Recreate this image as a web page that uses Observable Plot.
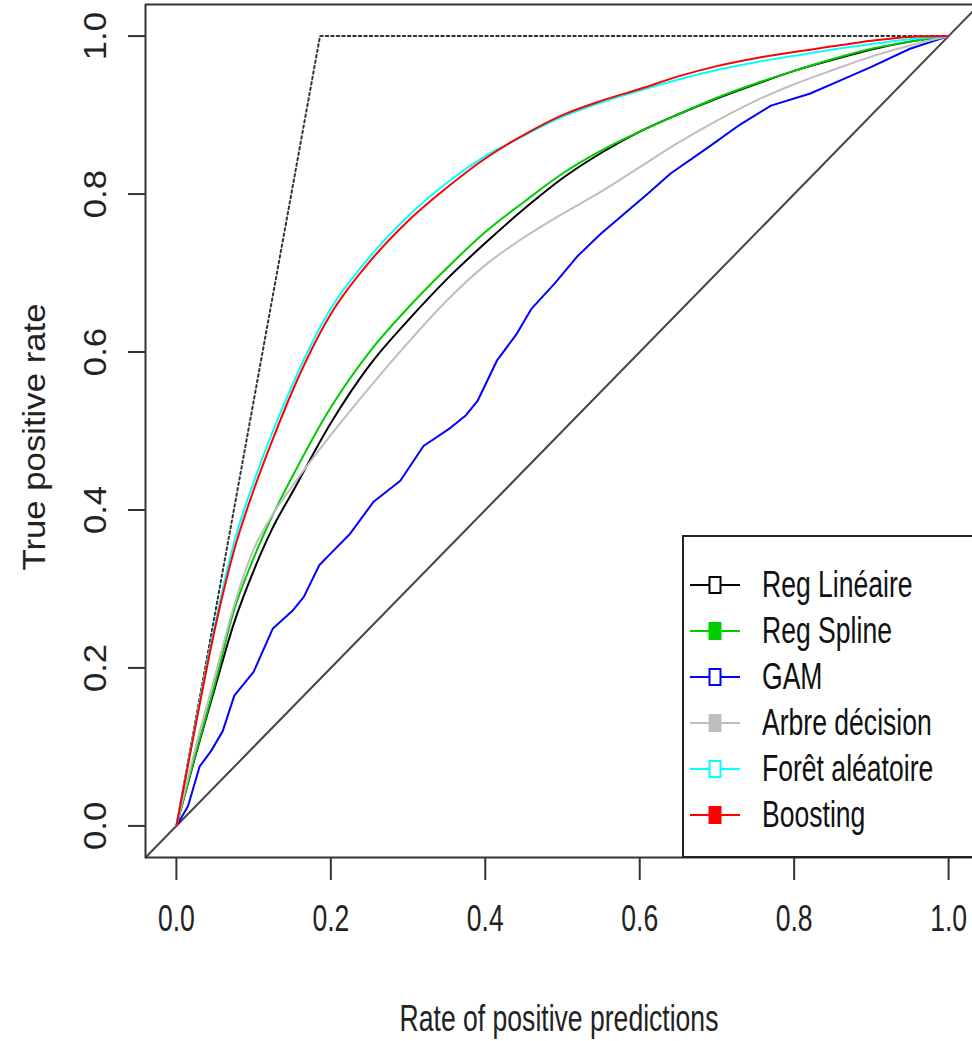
<!DOCTYPE html>
<html>
<head>
<meta charset="utf-8">
<script src="https://cdn.jsdelivr.net/npm/d3@7"></script>
<script src="https://cdn.jsdelivr.net/npm/@observablehq/plot@0.6"></script>
<style>
  html, body { margin: 0; padding: 0; background: white; overflow: hidden; }
  #wrap { position: relative; width: 972px; height: 1041px; overflow: hidden; }
  #legend { position: absolute; left: 682px; top: 535px; width: 310px; height: 323px;
            border: 2px solid #222; box-sizing: border-box; background: white; }
  .lrow { position: absolute; left: 0; height: 0; }
  .lsym { position: absolute; left: 6px; top: -10px; }
  .ltxt { position: absolute; left: 78px; top: -16px; height: 32px; line-height: 32px; white-space: nowrap;
          font-family: 'Liberation Sans', Arial, sans-serif; font-size: 32px; color: #111;
          transform-origin: left center; transform: scale(0.83, 1.13); }
</style>
</head>
<body>
<div id="wrap"><div id="chart"></div><div id="legend"></div></div>
<script>
// ---------- data ----------
const xTicks = [0, 0.2, 0.4, 0.6, 0.8, 1.0];
const yTicks = [0, 0.2, 0.4, 0.6, 0.8, 1.0];
const xDomain = [-0.04, 1.04];
const yDomain = [-0.04, 1.04];
const xLabel = "Rate of positive predictions";
const yLabel = "True positive rate";

// perfect model (prevalence ~0.186) and random model
const perfectX = [0, 0.186, 1];
const perfectY = [0, 1, 1];
const diagonal = [-0.04, 1.04];

const seriesNames  = ["Reg Linéaire", "Reg Spline", "GAM", "Arbre décision", "Forêt aléatoire", "Boosting"];
const seriesColors = ["#000000", "#00CD00", "#0000FF", "#BEBEBE", "#00FFFF", "#FF0000"];
const seriesFilled = [false, true, false, true, false, true];

const rateGrid       = [0, 0.025, 0.05, 0.075, 0.1, 0.125, 0.15, 0.2, 0.25, 0.3, 0.35, 0.4, 0.45, 0.5, 0.55, 0.6, 0.65, 0.7, 0.75, 0.8, 0.85, 0.9, 0.95, 1];
const regLineaire    = [0, 0.09, 0.175, 0.258, 0.323, 0.378, 0.422, 0.51, 0.583, 0.64, 0.692, 0.738, 0.781, 0.82, 0.852, 0.879, 0.901, 0.921, 0.939, 0.956, 0.97, 0.983, 0.993, 1];
const regSpline      = [0, 0.092, 0.18, 0.274, 0.339, 0.394, 0.442, 0.53, 0.6, 0.656, 0.706, 0.752, 0.79, 0.826, 0.855, 0.879, 0.901, 0.922, 0.94, 0.956, 0.971, 0.984, 0.993, 1];
const arbreDecision  = [0, 0.1, 0.19, 0.28, 0.35, 0.395, 0.43, 0.495, 0.555, 0.612, 0.665, 0.71, 0.745, 0.775, 0.803, 0.834, 0.865, 0.893, 0.918, 0.939, 0.957, 0.974, 0.988, 1];
const foretAleatoire = [0, 0.13, 0.255, 0.36, 0.435, 0.5, 0.558, 0.655, 0.72, 0.772, 0.814, 0.848, 0.874, 0.898, 0.916, 0.931, 0.945, 0.957, 0.967, 0.975, 0.983, 0.99, 0.996, 1];
const boosting       = [0, 0.128, 0.25, 0.35, 0.425, 0.49, 0.55, 0.648, 0.714, 0.766, 0.808, 0.845, 0.875, 0.9, 0.918, 0.933, 0.949, 0.962, 0.972, 0.98, 0.987, 0.994, 0.999, 1];

const gamX = [0, 0.015, 0.03, 0.045, 0.06, 0.075, 0.1, 0.125, 0.15, 0.165, 0.185, 0.2, 0.225, 0.255, 0.29, 0.32, 0.355, 0.375, 0.39, 0.415, 0.44, 0.46, 0.49, 0.52, 0.55, 0.58, 0.61, 0.64, 0.69, 0.73, 0.77, 0.82, 0.86, 0.9, 0.95, 1];
const gamY = [0, 0.025, 0.075, 0.095, 0.12, 0.165, 0.195, 0.25, 0.272, 0.29, 0.33, 0.345, 0.37, 0.41, 0.437, 0.481, 0.504, 0.52, 0.538, 0.589, 0.622, 0.655, 0.687, 0.722, 0.75, 0.775, 0.8, 0.826, 0.86, 0.888, 0.912, 0.927, 0.944, 0.961, 0.984, 1];

// ---------- build tables ----------
const seriesData = [
  rateGrid.map((x, i) => ({x, y: regLineaire[i]})),
  rateGrid.map((x, i) => ({x, y: regSpline[i]})),
  gamX.map((x, i) => ({x, y: gamY[i]})),
  rateGrid.map((x, i) => ({x, y: arbreDecision[i]})),
  rateGrid.map((x, i) => ({x, y: foretAleatoire[i]})),
  rateGrid.map((x, i) => ({x, y: boosting[i]}))
];
const seriesCurve = ["monotone-x", "monotone-x", "linear", "monotone-x", "monotone-x", "monotone-x"];
const perfect = perfectX.map((x, i) => ({x, y: perfectY[i]}));
const diag = diagonal.map(d => ({x: d, y: d}));
const fmt = d => d.toFixed(1);

const chart = Plot.plot({
  width: 972,
  height: 1041,
  marginLeft: 145,
  marginRight: 0,
  marginTop: 4,
  marginBottom: 184,
  style: {fontFamily: "'Liberation Sans', Arial, sans-serif", fontSize: "32px", color: "#222", background: "white", overflow: "hidden"},
  x: {domain: xDomain, range: [145, 979], label: null},
  y: {domain: yDomain, range: [857, 4], label: null},
  marks: [
    Plot.line(diag, {x: "x", y: "y", stroke: "#444", strokeWidth: 2}),
    Plot.line(perfect, {x: "x", y: "y", stroke: "#333", strokeWidth: 2, strokeDasharray: "2.5,3"}),
    ...seriesData.map((d, i) => Plot.line(d, {x: "x", y: "y", stroke: seriesColors[i], strokeWidth: 2, curve: seriesCurve[i]})),
    Plot.ruleY([yDomain[0], yDomain[1]], {stroke: "#333", strokeWidth: 2}),
    Plot.ruleX([xDomain[0]], {stroke: "#333", strokeWidth: 2}),
    Plot.axisX({ticks: xTicks, tickSize: 23, tickPadding: 25, tickFormat: fmt, fontSize: 32, label: null, strokeWidth: 2, stroke: "#333"}),
    Plot.axisY({ticks: yTicks, tickSize: 17, tickFormat: () => "", label: null, strokeWidth: 2, stroke: "#333"}),
    Plot.text(yTicks, {y: d => d, text: fmt, frameAnchor: "left", textAnchor: "middle", dx: -49, rotate: -90, fontSize: 31, fill: "#222"}),
    Plot.text([yLabel], {text: d => d, frameAnchor: "left", textAnchor: "middle", dx: -110, dy: 6, rotate: -90, fontSize: 31, fill: "#222"}),
    Plot.text([xLabel], {text: d => d, frameAnchor: "bottom", textAnchor: "middle", dy: 148, lineAnchor: "top", fontSize: 32, fill: "#222"})
  ]
});

// mimic the stretched raster of the original: narrow horizontal text, long rotated text
chart.querySelectorAll("text").forEach(t => {
  const tr = t.getAttribute("transform") || "";
  if (/rotate\(/.test(tr)) t.setAttribute("transform", tr + " scale(1.12,1)");
  else t.setAttribute("transform", tr + " scale(0.83,1.13)");
});
document.getElementById("chart").appendChild(chart);

// ---------- legend ----------
const legend = d3.select("#legend");
seriesNames.forEach((name, i) => {
  const row = legend.append("div").attr("class", "lrow").style("top", (48 + i * 46) + "px");
  const s = row.append("svg").attr("class", "lsym").attr("width", 52).attr("height", 20);
  s.append("line").attr("x1", 0).attr("x2", 50).attr("y1", 10).attr("y2", 10)
    .attr("stroke", seriesColors[i]).attr("stroke-width", 2);
  s.append("rect").attr("x", 19.5).attr("y", 2).attr("width", 11).attr("height", 16)
    .attr("fill", seriesFilled[i] ? seriesColors[i] : "white")
    .attr("stroke", seriesColors[i]).attr("stroke-width", 2);
  row.append("span").attr("class", "ltxt").text(name);
});
</script>
</body>
</html>
